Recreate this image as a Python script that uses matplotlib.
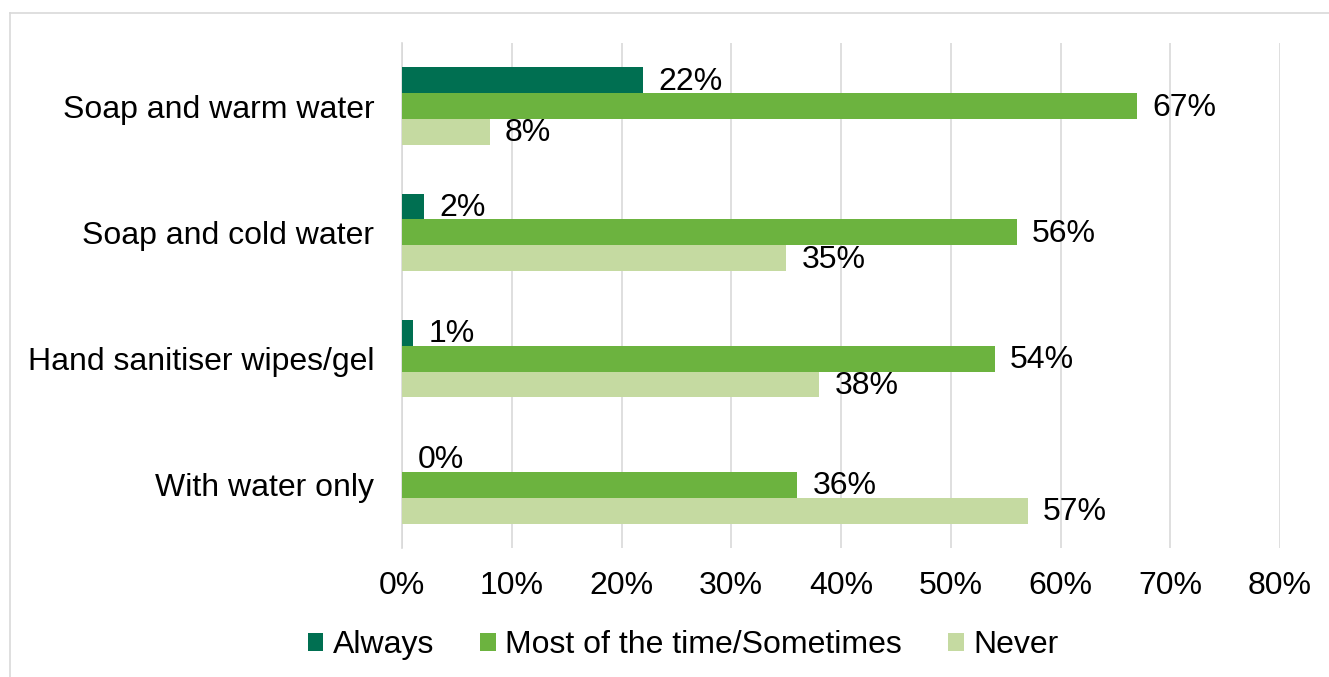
import matplotlib
matplotlib.use("Agg")
import matplotlib.pyplot as plt
from matplotlib.lines import Line2D
from matplotlib.patches import Patch
import numpy as np

plt.rcParams['font.family'] = ['Liberation Sans', 'DejaVu Sans']

categories = ["Soap and warm water", "Soap and cold water",
              "Hand sanitiser wipes/gel", "With water only"]
series_names = ["Always", "Most of the time/Sometimes", "Never"]
always = [22, 2, 1, 0]
most_sometimes = [67, 56, 54, 36]
never = [8, 35, 38, 57]
x_ticks = [0, 10, 20, 30, 40, 50, 60, 70, 80]

colors = ["#006F51", "#6CB33F", "#C5DAA1"]
grid_color = "#D9D9D9"
fs = 23

fig = plt.figure(figsize=(13.29, 6.77), dpi=100)
ax = fig.add_axes([402 / 1329, 1 - 548 / 677, (1280 - 402) / 1329, (548 - 43) / 677])

n = len(categories)
y = np.arange(n)
h = 0.205
offsets = [-h, 0, h]
for vals, off, col in zip([always, most_sometimes, never], offsets, colors):
    bars = ax.barh(y + off, vals, height=h, color=col, zorder=3)
    for b, v in zip(bars, vals):
        ax.annotate(f"{v}%", xy=(b.get_width(), b.get_y() + b.get_height() / 2),
                    xytext=(11, -1), textcoords="offset points",
                    ha="left", va="center", fontsize=fs, color="black", zorder=4)

ax.set_ylim(n - 0.5, -0.5)
ax.set_xlim(0, 80)
ax.set_yticks(y)
ax.set_yticklabels(categories, fontsize=fs)
ax.set_xticks(x_ticks)
ax.set_xticklabels([f"{t}%" for t in x_ticks], fontsize=fs)
ax.tick_params(axis="both", length=0)
ax.tick_params(axis="y", pad=20)
ax.tick_params(axis="x", pad=16.5)
ax.grid(axis="x", color=grid_color, linewidth=1.2, zorder=0)
for s in ["top", "right", "bottom"]:
    ax.spines[s].set_visible(False)
ax.spines["left"].set_color(grid_color)
ax.spines["left"].set_linewidth(1.2)

handles = [Patch(facecolor=c, edgecolor="none") for c in colors]
fig.legend(handles, series_names, loc="center", bbox_to_anchor=(683 / 1329, 1 - 645 / 677),
           ncol=3, frameon=False, fontsize=fs, handlelength=0.48, handleheight=0.48,
           handletextpad=0.3, columnspacing=1.45)

# outer chart frame
fig.add_artist(Line2D([10 / 1329, 1.0], [1 - 13 / 677, 1 - 13 / 677],
                      transform=fig.transFigure, color=grid_color, linewidth=1.2))
fig.add_artist(Line2D([10 / 1329, 10 / 1329], [0.0, 1 - 13 / 677],
                      transform=fig.transFigure, color=grid_color, linewidth=1.2))

fig.savefig("out.png", dpi=100, facecolor="white")
